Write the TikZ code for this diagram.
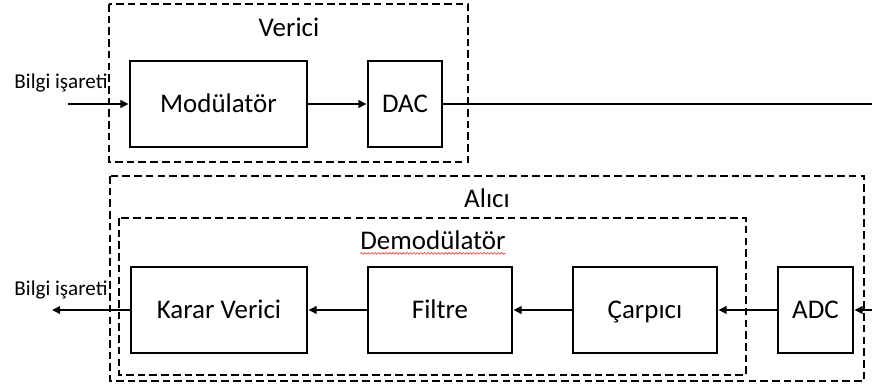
\documentclass[tikz,border=0pt]{standalone}
\usepackage{fontspec}
\setmainfont{Carlito}
\usetikzlibrary{arrows.meta,decorations.pathmorphing}

\begin{document}
\begin{tikzpicture}[x=0.03cm,y=-0.03cm,
		blok/.style={draw,line width=2.5pt,minimum height=86*0.03cm,inner sep=0pt,text height=14.5pt,text depth=0pt,font=\fontsize{23}{27}\selectfont},
		grup/.style={line width=1.6pt,dash pattern=on 6.5pt off 3.5pt},
		ok/.style={line width=1.7pt,-{Triangle[length=7pt,width=6.5pt]}},
		baslik/.style={inner sep=0pt,font=\fontsize{23}{27}\selectfont},
		etiket/.style={inner sep=0pt,font=\fontsize{18}{22}\selectfont}]
			\useasboundingbox (0,0) rectangle (872,390);
			% verici
			\draw[grup] (109,4) rectangle (468,162);
			\node[baslik] (vericiyazi) at (289,27) {Verici};
			\node[blok,minimum width=177*0.03cm] (mod) at (218.5,104) {Modülatör};
			\node[blok,minimum width=74*0.03cm] (dac) at (405,104) {DAC};
			\node[etiket] (giris) at (61,83) {Bilgi işareti};
			\coordinate (gir) at (68,104);
			\coordinate (kanal) at (872,104);
			\draw[ok] (gir) -- (mod.west);
			\draw[ok] (mod.east) -- (dac.west);
			\draw[line width=1.7pt] (dac.east) -- (kanal);
			% alici
			\draw[grup] (110,176) rectangle (864,381);
			\draw[grup] (119,218) rectangle (746,375);
			\node[baslik] (aliciyazi) at (487,198) {Alıcı};
			\node[baslik] (demodyazi) at (433,240) {Demodülatör};
			\draw[red!85,line width=0.5pt,decorate,decoration={snake,amplitude=0.7pt,segment length=3pt}]
				([yshift=-3.5pt]demodyazi.base west) -- ([yshift=-3.5pt]demodyazi.base east);
			\node[blok,minimum width=176*0.03cm] (karar) at (219,310) {Karar Verici};
			\node[blok,minimum width=144*0.03cm] (filtre) at (440,310) {Filtre};
			\node[blok,minimum width=144*0.03cm] (carp) at (645,310) {Çarpıcı};
			\node[blok,minimum width=75*0.03cm] (adc) at (815.5,310) {ADC};
			\node[etiket] (cikis) at (61,290) {Bilgi işareti};
			\coordinate (al) at (872,310);
			\coordinate (cik) at (52,310);
			\draw[ok] (al) -- (adc.east);
			\draw[ok] (adc.west) -- (carp.east);
			\draw[ok] (carp.west) -- (filtre.east);
			\draw[ok] (filtre.west) -- (karar.east);
			\draw[ok] (karar.west) -- (cik);
		\end{tikzpicture}
\end{document}
